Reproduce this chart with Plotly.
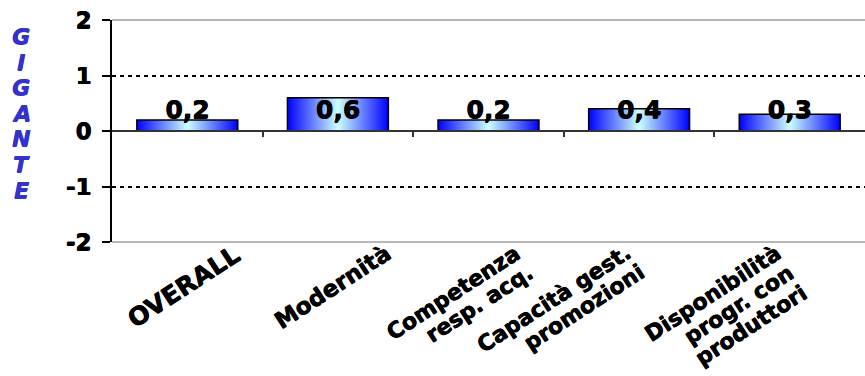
import math
import plotly.graph_objects as go

# Chart data
categories = [
    "OVERALL",
    "Modernità",
    "Competenza\nresp. acq.",
    "Capacità gest.\npromozioni",
    "Disponibilità\nprogr. con\nproduttori",
]
values = [0.2, 0.6, 0.2, 0.4, 0.3]
y_ticks = [-2, -1, 0, 1, 2]
y_tick_text = ["-2", "-1", "0", "1", "2"]
side_title = "GIGANTE"

# Figure geometry (pixels)
W, H = 865, 376
M_L, M_R, M_T, M_B = 112, 0, 20, 134
PW, PH = W - M_L - M_R, H - M_T - M_B

# Styling
FONT = "DejaVu Sans"
HEAVY = "0.6px 0 0 {c}, 0 0.5px 0 {c}"   # thickens the bold glyphs slightly
BAR_WIDTH = 0.67
LABEL_LEVEL = 0.34          # height of the value labels (data units)
label_font_sizes = [25, 23, 22, 22, 22]
label_end_dx = [61, 60, 39, -1, -2]   # px from category centre to label's top-right
LABEL_ANGLE = -33
LINE_PITCH = 24
gradient = [[0, "#0000ff"], [0.5, "#ccffff"], [1, "#0000ff"]]


def bold(s):
    return f"<b>{s}</b>"


def px_to_paper_x(px):
    return (px - M_L) / PW


def px_to_paper_y(py):
    return 1 - (py - M_T) / PH


fig = go.Figure()

# Bars as filled polygons so each can carry a horizontal gradient
for i, v in enumerate(values):
    x0, x1 = i - BAR_WIDTH / 2, i + BAR_WIDTH / 2
    fig.add_trace(go.Scatter(
        x=[x0, x1, x1, x0, x0],
        y=[0, 0, v, v, 0],
        mode="lines",
        fill="toself",
        fillgradient=dict(type="horizontal", colorscale=gradient),
        line=dict(color="black", width=1.5),
        hoverinfo="skip",
        showlegend=False,
    ))

# Value labels
fig.add_trace(go.Scatter(
    x=list(range(len(values))),
    y=[LABEL_LEVEL] * len(values),
    mode="text",
    text=[bold(f"{v:.1f}".replace(".", ",")) for v in values],
    textposition="middle center",
    textfont=dict(family=FONT, size=25, color="black",
                  shadow=HEAVY.format(c="black")),
    hoverinfo="skip",
    showlegend=False,
))

# Category labels: rotated, right-aligned lines
perp_x = math.sin(math.radians(-LABEL_ANGLE))
perp_y = math.cos(math.radians(-LABEL_ANGLE))
for i, (cat, fs, dx) in enumerate(zip(categories, label_font_sizes, label_end_dx)):
    for k, line in enumerate(cat.split("\n")):
        fig.add_annotation(
            x=i, y=0, xref="x", yref="paper",
            text=bold(line), showarrow=False, textangle=LABEL_ANGLE,
            xanchor="right", yanchor="top",
            xshift=dx + k * LINE_PITCH * perp_x,
            yshift=5 - k * LINE_PITCH * perp_y,
            font=dict(family=FONT, size=fs, color="black",
                      shadow=HEAVY.format(c="black")),
        )

# Vertical side title, one letter per row
for k, ch in enumerate(side_title):
    fig.add_annotation(
        x=px_to_paper_x(21), y=px_to_paper_y(36.5 + 25.6 * k),
        xref="paper", yref="paper",
        text=f"<b><i>{ch}</i></b>", showarrow=False,
        xanchor="center", yanchor="middle",
        font=dict(family=FONT, size=22, color="#3333cc",
                  shadow=HEAVY.format(c="#3333cc")),
    )

# Light rules under the top and bottom gridlines
for edge in (0, 1):
    fig.add_shape(type="line", xref="x domain", yref="y domain",
                  x0=0, x1=1, y0=edge, y1=edge, layer="below",
                  line=dict(color="#a0a0a0", width=1.5))

fig.update_layout(
    width=W, height=H,
    margin=dict(l=M_L, r=M_R, t=M_T, b=M_B),
    paper_bgcolor="white",
    plot_bgcolor="rgba(0,0,0,0)",
    font=dict(family=FONT, color="black"),
    showlegend=False,
    xaxis=dict(
        range=[-0.5, len(categories) - 0.5],
        anchor="free", position=0.5,
        showgrid=False, zeroline=False,
        showline=True, linecolor="#333333", linewidth=2,
        ticks="outside", tickvals=[i + 0.5 for i in range(len(categories) - 1)],
        ticklen=5, tickwidth=1.5, tickcolor="#333333",
        showticklabels=False,
    ),
    yaxis=dict(
        range=[-2, 2], tickvals=y_ticks,
        ticktext=[bold(t) for t in y_tick_text],
        showgrid=True, gridcolor="black", gridwidth=1.5, griddash="4px,4px",
        zeroline=False,
        showline=True, linecolor="black", linewidth=2,
        ticks="outside", ticklen=8, tickwidth=1.5, tickcolor="black",
        ticklabelstandoff=6,
        tickfont=dict(family=FONT, size=23, color="black",
                      shadow=HEAVY.format(c="black")),
    ),
)

fig.write_html("out.html")
